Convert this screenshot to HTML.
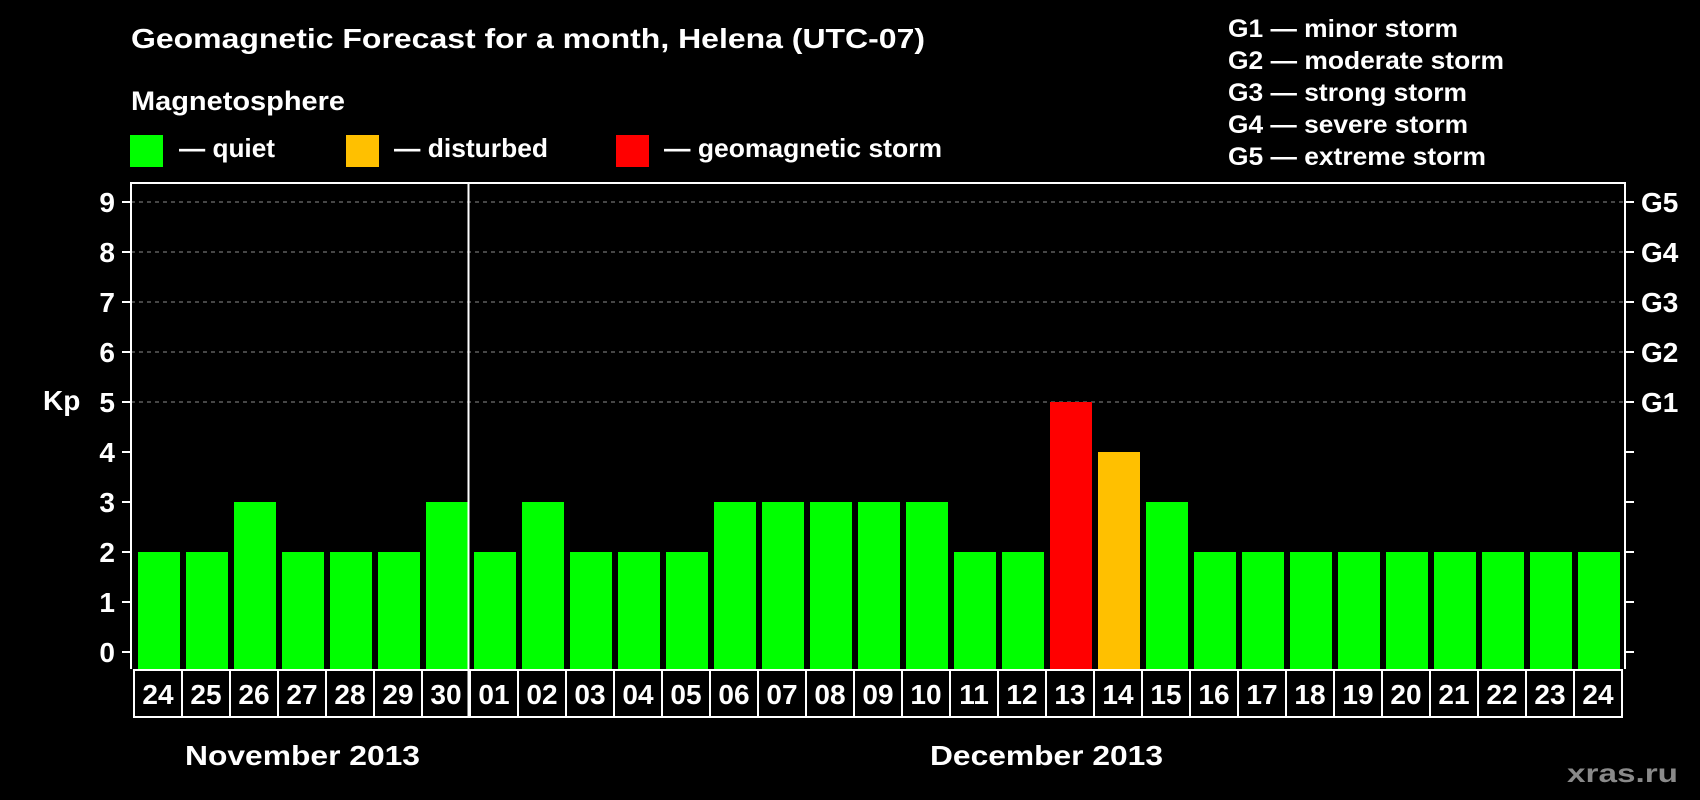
<!DOCTYPE html>
<html><head><meta charset="utf-8"><style>
html,body{margin:0;padding:0;background:#000;width:1700px;height:800px;overflow:hidden}
svg text{font-family:"Liberation Sans",Arial,sans-serif;font-weight:bold;fill:#fff}
</style></head><body>
<svg id="chart" xmlns="http://www.w3.org/2000/svg" width="1700" height="800" viewBox="0 0 1700 800">
<rect x="0" y="0" width="1700" height="800" fill="#000"/>
<text x="131" y="48" font-size="28" textLength="794" lengthAdjust="spacingAndGlyphs">Geomagnetic Forecast for a month, Helena (UTC-07)</text>
<text x="131" y="110" font-size="27" textLength="214" lengthAdjust="spacingAndGlyphs">Magnetosphere</text>
<rect x="130" y="135" width="33" height="32" fill="#00ff00"/>
<text x="179" y="157" font-size="26" textLength="96" lengthAdjust="spacingAndGlyphs">— quiet</text>
<rect x="346" y="135" width="33" height="32" fill="#ffc000"/>
<text x="394" y="157" font-size="26" textLength="154" lengthAdjust="spacingAndGlyphs">— disturbed</text>
<rect x="616" y="135" width="33" height="32" fill="#ff0000"/>
<text x="664" y="157" font-size="26" textLength="278" lengthAdjust="spacingAndGlyphs">— geomagnetic storm</text>
<g>
<text x="1228" y="37" font-size="25" textLength="230" lengthAdjust="spacingAndGlyphs">G1 — minor storm</text>
<text x="1228" y="69" font-size="25" textLength="276" lengthAdjust="spacingAndGlyphs">G2 — moderate storm</text>
<text x="1228" y="101" font-size="25" textLength="239" lengthAdjust="spacingAndGlyphs">G3 — strong storm</text>
<text x="1228" y="133" font-size="25" textLength="240" lengthAdjust="spacingAndGlyphs">G4 — severe storm</text>
<text x="1228" y="165" font-size="25" textLength="258" lengthAdjust="spacingAndGlyphs">G5 — extreme storm</text>
</g>
<text x="43" y="410" font-size="28">Kp</text>
<text x="185" y="765" font-size="28" textLength="235" lengthAdjust="spacingAndGlyphs">November 2013</text>
<text x="930" y="765" font-size="28" textLength="233" lengthAdjust="spacingAndGlyphs">December 2013</text>
<text x="1567" y="782" font-size="26" style="fill:#8a8a8a" textLength="111" lengthAdjust="spacingAndGlyphs">xras.ru</text>
<g id="plot"></g>
</svg>
<script>
const days = ["24","25","26","27","28","29","30","01","02","03","04","05","06","07","08","09","10","11","12","13","14","15","16","17","18","19","20","21","22","23","24"];
const kpValues = [2,2,3,2,2,2,3,2,3,2,2,2,3,3,3,3,3,2,2,5,4,3,2,2,2,2,2,2,2,2,2];
const yTicks = [0,1,2,3,4,5,6,7,8,9];
const gLevels = [5,6,7,8,9];
const gLabels = ["G1","G2","G3","G4","G5"];
const monthBreakIndex = 7;

const NS = "http://www.w3.org/2000/svg";
const plot = document.getElementById("plot");
const L = 131, R = 1625, T = 183, B = 669;
const y0 = 652, unit = 50;
const cellX0 = 134, cellW = 48, barW = 42;
function yScale(v){ return y0 - v*unit; }
function xCell(i){ return cellX0 + i*cellW; }
function mk(tag, attrs){ const e = document.createElementNS(NS, tag); for (const k in attrs) e.setAttribute(k, attrs[k]); plot.appendChild(e); return e; }
function color(v){ return v >= 5 ? "#ff0000" : (v >= 4 ? "#ffc000" : "#00ff00"); }

// grid
gLevels.forEach((g) => {
  const ln = mk("line", {x1:L, x2:R, y1:yScale(g), y2:yScale(g), stroke:"#8c8c8c", "stroke-width":1, "stroke-dasharray":"4 4"});
  
  
});
// bars
kpValues.forEach((v, i) => {
  const r = mk("rect", {x:xCell(i)+4, y:yScale(v), width:barW, height:B - yScale(v), fill:color(v)});
  
  
});
// frame
const fr = mk("path", {d:`M${L},${B} L${L},${T} L${R},${T} L${R},${B}`, fill:"none", stroke:"#fff", "stroke-width":2});


// ticks
yTicks.forEach((t) => {
  const a = mk("line", {x1:L-9, x2:L, y1:yScale(t), y2:yScale(t), stroke:"#fff", "stroke-width":2});
  
  
  const b = mk("line", {x1:R, x2:R+9, y1:yScale(t), y2:yScale(t), stroke:"#fff", "stroke-width":2});
  
  
  const tx = mk("text", {x:115, y:yScale(t)+10, "font-size":28, "text-anchor":"end"});
  tx.textContent = t;
  
  
});
gLevels.forEach((g, i) => {
  const tx = mk("text", {x:1641, y:yScale(g)+10, "font-size":28});
  tx.textContent = gLabels[i];
  
  
});
// day cells
days.forEach((d, i) => {
  const c = mk("rect", {x:xCell(i), y:670, width:cellW, height:47, fill:"none", stroke:"#fff", "stroke-width":2});
  
  
  const tx = mk("text", {x:xCell(i)+cellW/2, y:704, "font-size":28, "text-anchor":"middle"});
  tx.textContent = d;
  
  
});
// month separator
const sx = xCell(monthBreakIndex) - 1.5;
const sep = mk("line", {x1:sx, x2:sx, y1:T, y2:717, stroke:"#fff", "stroke-width":2});


</script>
</body></html>
